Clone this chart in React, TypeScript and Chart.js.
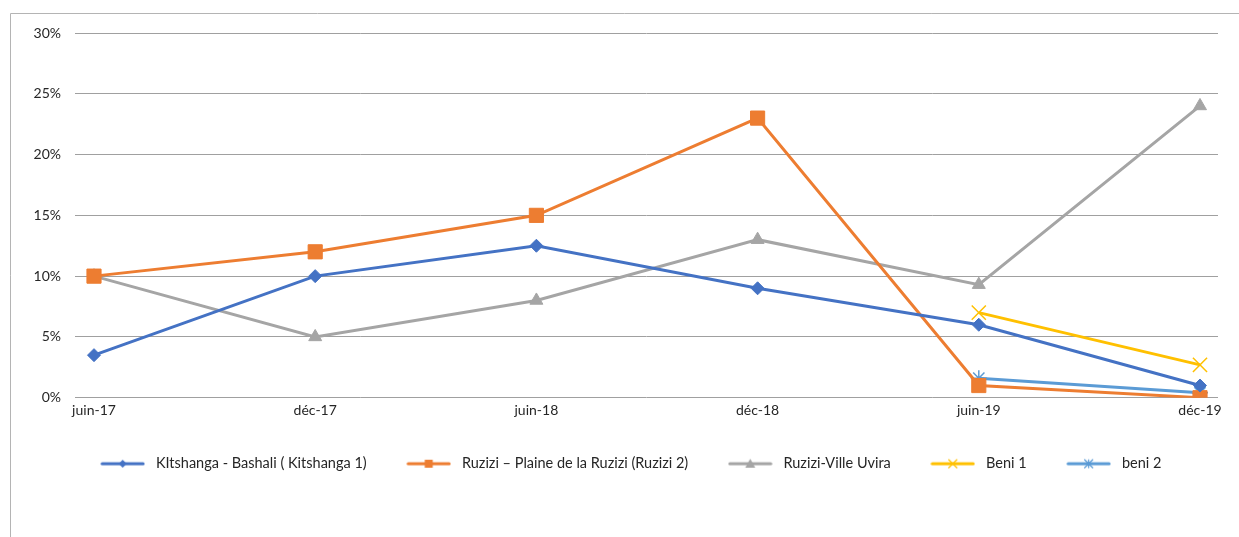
import React, { useEffect, useRef } from "react";
import { Chart, registerables } from "chart.js";

Chart.register(...registerables);

const categories = ["juin-17", "déc-17", "juin-18", "déc-18", "juin-19", "déc-19"];
const kitshanga = [3.5, 10, 12.5, 9, 6, 1];
const ruzizi2 = [10, 12, 15, 23, 1, 0];
const uvira = [10, 5, 8, 13, 9.3, 24];
const beni1 = [null, null, null, null, 7, 2.7];
const beni2 = [null, null, null, null, 1.6, 0.4];
const yTicks = [0, 5, 10, 15, 20, 25, 30];

const FONT = "Lato, 'Open Sans', sans-serif";

type SeriesDef = {
  label: string;
  data: (number | null)[];
  color: string;
  style: string;
  radius: number;
  filled: boolean;
};

const series: SeriesDef[] = [
  { label: "KItshanga - Bashali ( Kitshanga 1)", data: kitshanga, color: "#4472C4", style: "rectRot", radius: 6.5, filled: true },
  { label: "Ruzizi – Plaine de la Ruzizi (Ruzizi 2)", data: ruzizi2, color: "#ED7D31", style: "rect", radius: 10, filled: true },
  { label: "Ruzizi-Ville Uvira", data: uvira, color: "#A5A5A5", style: "triangle", radius: 7.5, filled: true },
  { label: "Beni 1", data: beni1, color: "#FFC000", style: "crossRot", radius: 10, filled: false },
  { label: "beni 2", data: beni2, color: "#5B9BD5", style: "star", radius: 8, filled: false },
];

function makeLegendImage(s: SeriesDef): HTMLCanvasElement {
  const c = document.createElement("canvas");
  c.width = 45;
  c.height = 12;
  const ctx = c.getContext("2d")!;
  ctx.strokeStyle = s.color;
  ctx.lineWidth = 3;
  ctx.lineCap = "round";
  ctx.beginPath();
  ctx.moveTo(2, 6);
  ctx.lineTo(43, 6);
  ctx.stroke();
  ctx.fillStyle = s.color;
  ctx.lineWidth = 1.2;
  const r = 4;
  ctx.beginPath();
  if (s.style === "rectRot") {
    ctx.moveTo(22.5, 6 - r); ctx.lineTo(22.5 + r, 6); ctx.lineTo(22.5, 6 + r); ctx.lineTo(22.5 - r, 6); ctx.closePath(); ctx.fill();
  } else if (s.style === "rect") {
    ctx.rect(22.5 - r, 6 - r, 2 * r, 2 * r); ctx.fill();
  } else if (s.style === "triangle") {
    ctx.moveTo(22.5, 6 - r - 1); ctx.lineTo(22.5 + r + 1, 6 + r); ctx.lineTo(22.5 - r - 1, 6 + r); ctx.closePath(); ctx.fill();
  } else if (s.style === "crossRot") {
    ctx.moveTo(22.5 - r, 6 - r); ctx.lineTo(22.5 + r, 6 + r); ctx.moveTo(22.5 + r, 6 - r); ctx.lineTo(22.5 - r, 6 + r); ctx.stroke();
  } else {
    ctx.moveTo(22.5 - r, 6 - r); ctx.lineTo(22.5 + r, 6 + r); ctx.moveTo(22.5 + r, 6 - r); ctx.lineTo(22.5 - r, 6 + r);
    ctx.moveTo(22.5, 6 - r); ctx.lineTo(22.5, 6 + r); ctx.stroke();
  }
  return c;
}

const framePlugin = {
  id: "frame",
  afterLayout(chart: any) {
    const lg = chart.legend;
    if (lg) {
      lg.left += 20;
      lg.right += 20;
    }
  },
  beforeDraw(chart: any) {
    const ctx = chart.ctx;
    ctx.save();
    ctx.strokeStyle = "#b4b4b4";
    ctx.lineWidth = 1;
    ctx.beginPath();
    ctx.moveTo(10.5, 537);
    ctx.lineTo(10.5, 13.5);
    ctx.lineTo(1239, 13.5);
    ctx.stroke();
    ctx.restore();
  },
};

export default function App() {
  const ref = useRef<HTMLCanvasElement>(null);
  useEffect(() => {
    if (!ref.current) return;
    const images = series.map(makeLegendImage);
    const chart = new Chart(ref.current, {
      type: "line",
      data: {
        datasets: series.map((s, i) => ({
          label: s.label,
          data: s.data.map((v, j) => ({ x: j, y: v })) as any,
          borderColor: s.color,
          backgroundColor: s.color,
          borderWidth: 3,
          pointStyle: s.style as any,
          pointRadius: s.radius,
          pointHoverRadius: s.radius,
          pointBackgroundColor: s.filled ? s.color : "transparent",
          pointBorderColor: s.color,
          pointBorderWidth: s.filled ? 1 : 1.5,
          spanGaps: false,
          tension: 0,
        })) as any,
      },
      options: {
        animation: false,
        responsive: false,
        maintainAspectRatio: false,
        layout: { padding: { left: 0, right: 21, top: 33, bottom: 56 } },
        plugins: {
          tooltip: { enabled: false },
          legend: {
            position: "bottom",
            labels: {
              usePointStyle: true,
              pointStyleWidth: 52,
              padding: 36,
              color: "#262626",
              font: { family: FONT, size: 14.5 },
              generateLabels: (chart: any) =>
                chart.data.datasets.map((ds: any, i: number) => ({
                  text: ds.label,
                  pointStyle: images[i],
                  fillStyle: ds.borderColor,
                  strokeStyle: ds.borderColor,
                  lineWidth: 0,
                  hidden: false,
                  datasetIndex: i,
                  fontColor: "#262626",
                })),
            },
          },
        },
        scales: {
          x: {
            type: "linear",
            min: -0.0859,
            max: 5.0814,
            afterBuildTicks: (axis: any) => {
              axis.ticks = categories.map((_, i) => ({ value: i }));
            },
            afterFit: (axis: any) => {
              axis.height -= 2;
            },
            grid: { display: false, drawTicks: false },
            border: { display: false },
            ticks: {
              padding: 4,
              color: "#262626",
              font: { family: FONT, size: 14 },
              maxRotation: 0,
              autoSkip: false,
              callback: (v: any) => categories[Math.round(Number(v))] ?? "",
            },
          },
          y: {
            min: 0,
            max: 30,
            afterBuildTicks: (axis: any) => {
              axis.ticks = yTicks.map((v) => ({ value: v }));
            },
            afterFit: (axis: any) => {
              axis.width = 75;
            },
            grid: { color: "#a0a0a0", lineWidth: 1, drawTicks: false },
            border: { display: false },
            ticks: {
              padding: 14,
              color: "#262626",
              font: { family: FONT, size: 14 },
              callback: (v: any) => v + "%",
            },
          },
        },
      },
      plugins: [framePlugin],
    });
    return () => chart.destroy();
  }, []);
  return (
    <div style={{ position: "fixed", left: 0, top: 0, width: 1239, height: 537, background: "#fff" }}>
      <canvas ref={ref} width={1239} height={537} style={{ display: "block", width: 1239, height: 537 }} />
    </div>
  );
}
